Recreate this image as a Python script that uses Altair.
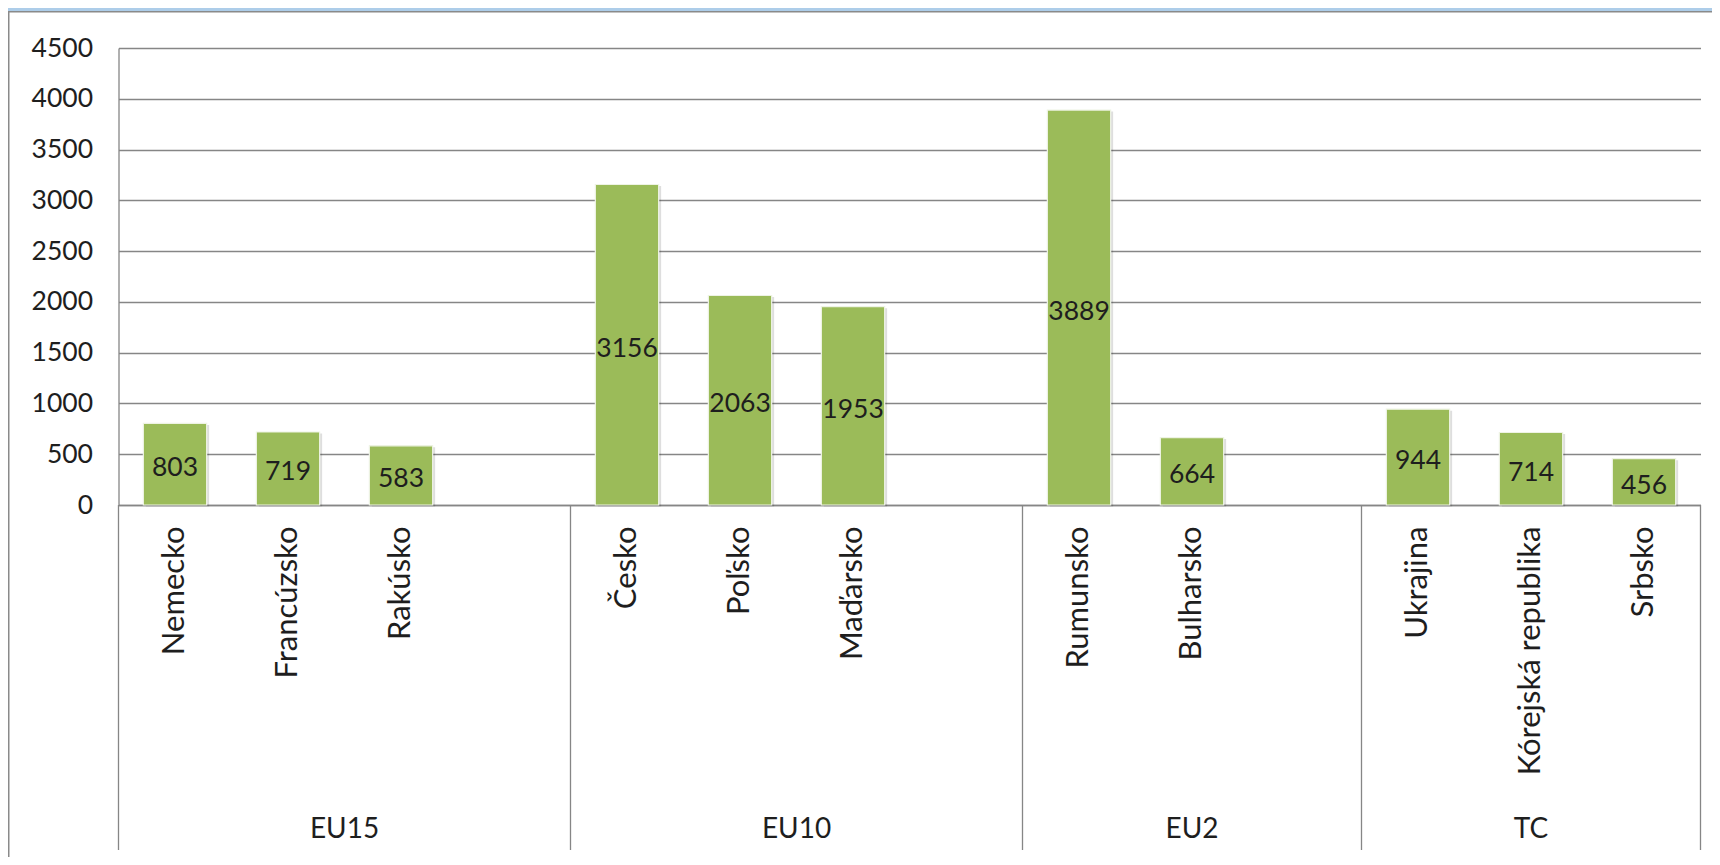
import altair as alt
import pandas as pd

# ---------------- data ----------------
groups = ["EU15", "EU10", "EU2", "TC"]
group_slots = [4, 4, 3, 3]
countries = ["Nemecko", "Francúzsko", "Rakúsko", "Česko", "Poľsko", "Maďarsko",
             "Rumunsko", "Bulharsko", "Ukrajina", "Kórejská republika", "Srbsko"]
country_group = ["EU15", "EU15", "EU15", "EU10", "EU10", "EU10",
                 "EU2", "EU2", "TC", "TC", "TC"]
values = [803, 719, 583, 3156, 2063, 1953, 3889, 664, 944, 714, 456]
y_ticks = [0, 500, 1000, 1500, 2000, 2500, 3000, 3500, 4000, 4500]

# ---------------- derived tables ----------------
slots = []
for g, n in zip(groups, group_slots):
    members = [c for c, cg in zip(countries, country_group) if cg == g]
    slots += members + ["_" + g + str(i) for i in range(n - len(members))]
n_slots = len(slots)

bars_df = pd.DataFrame({"slot": countries, "value": values, "group": country_group})
bars_df["half"] = bars_df["value"] / 2

bounds, mids, acc = [0], [], 0
for n in group_slots:
    mids.append(acc + n / 2)
    acc += n
    bounds.append(acc)
sep_df = pd.DataFrame({"pos": bounds})
grp_df = pd.DataFrame({"group": groups, "mid": mids})

# ---------------- style ----------------
W, H = 1582, 457
PAD_L, PAD_T = 110.5, 40
FONT = "Lato"
FS_NUM = 26.5
FS_CAT = 31
FS_GRP = 28
GRID = "#868686"
TXT = "#1e1e1e"
GREEN = "#9BBB59"

xband = alt.Scale(domain=slots, paddingInner=0, paddingOuter=0)
yscale = alt.Scale(domain=[0, 4500], nice=False, zero=True)
xq = alt.Scale(domain=[0, n_slots], nice=False, zero=False)

xaxis = alt.Axis(title=None, labelAngle=-90, labelAlign="right",
                 labelBaseline="middle", labelPadding=21, ticks=False,
                 domainColor=GRID, domainWidth=1.3, labelFont=FONT,
                 labelFontSize=FS_CAT, labelColor=TXT, labelLimit=500,
                 labelExpr="indexof(datum.label, '_') == 0 ? '' : datum.label")
yaxis = alt.Axis(title=None, values=y_ticks, ticks=False, labelPadding=26,
                 gridColor=GRID, gridWidth=1.3, domainColor=GRID,
                 domainWidth=1.3, labelFont=FONT, labelFontSize=FS_NUM,
                 labelColor=TXT, format="d")

base = alt.Chart(bars_df)

shadow = base.mark_bar(color="#000000", opacity=0.13, width=alt.RelativeBandSize(0.56),
                       xOffset=2.5, yOffset=1.5).encode(
    x=alt.X("slot:N", scale=xband, axis=xaxis, sort=slots),
    y=alt.Y("value:Q", scale=yscale, axis=yaxis),
)

bars = base.mark_bar(color=GREEN, stroke="#eef3e4", strokeWidth=1.2,
                     width=alt.RelativeBandSize(0.56)).encode(
    x=alt.X("slot:N", scale=xband, sort=slots, axis=xaxis),
    y=alt.Y("value:Q", scale=yscale, axis=yaxis),
)

labels = base.mark_text(font=FONT, fontSize=FS_NUM, color=TXT, baseline="middle",
                        dy=4).encode(
    x=alt.X("slot:N", scale=xband, axis=xaxis, sort=slots),
    y=alt.Y("half:Q", scale=yscale, axis=yaxis),
    text=alt.Text("value:Q", format="d"),
)

bar_layers = alt.layer(shadow, bars, labels)

seps = alt.Chart(sep_df).mark_rule(color=GRID, strokeWidth=1.3).encode(
    x=alt.X("pos:Q", scale=xq, axis=None),
    y=alt.value(H),
    y2=alt.value(H + 345),
)

grp_text = alt.Chart(grp_df).mark_text(font=FONT, fontSize=FS_GRP, color=TXT,
                                       baseline="middle").encode(
    x=alt.X("mid:Q", scale=xq, axis=None),
    y=alt.value(H + 325),
    text="group:N",
)

one = pd.DataFrame({"k": [0]})
frame_blue = alt.Chart(one).mark_rect(color="#ADCDE9").encode(
    x=alt.value(-PAD_L), x2=alt.value(W + 12), y=alt.value(-PAD_T), y2=alt.value(-PAD_T + 3))
frame_top = alt.Chart(one).mark_rect(color="#8a8a8a").encode(
    x=alt.value(-PAD_L), x2=alt.value(W + 12), y=alt.value(-PAD_T + 3), y2=alt.value(-PAD_T + 4.5))
frame_left = alt.Chart(one).mark_rect(color="#8a8a8a").encode(
    x=alt.value(-PAD_L), x2=alt.value(-PAD_L + 1.5), y=alt.value(-PAD_T + 3), y2=alt.value(H + 360))

chart = alt.layer(
    frame_blue, frame_top, frame_left, bar_layers, seps, grp_text
).resolve_scale(x="independent").properties(
    width=W, height=H,
    padding={"left": PAD_L, "top": PAD_T, "right": 11.5, "bottom": 352},
    autosize=alt.AutoSizeParams(type="none"),
    background="white",
).configure_view(strokeWidth=0)

chart.save("out.html", embed_options={"renderer": "svg", "actions": False})
